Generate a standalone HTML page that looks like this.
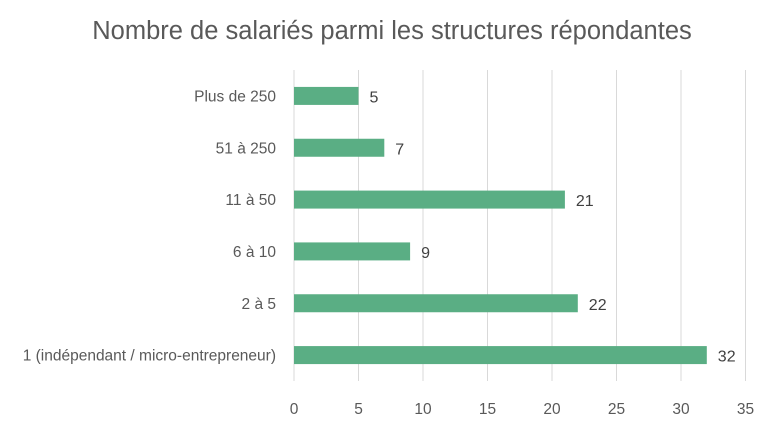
<!DOCTYPE html>
<html><head><meta charset="utf-8"><style>
body{margin:0;background:#fff;width:776px;height:424px;overflow:hidden}
svg text{font-family:"Liberation Sans",sans-serif}
</style></head><body>
<svg id="c" width="776" height="424">
<text x="392" y="39" text-anchor="middle" font-size="25.5" fill="#595959">Nombre de salariés parmi les structures répondantes</text>
</svg>
<script>
const categories=["Plus de 250","51 à 250","11 à 50","6 à 10","2 à 5","1 (indépendant / micro-entrepreneur)"];
const values=[5,7,21,9,22,32];
const ticks=[0,5,10,15,20,25,30,35];
const svgEl=document.getElementById('c');
const NS="http://www.w3.org/2000/svg";
const x0=294,x1=745.5,plotTop=70,plotBottom=381;
const xs=v=>x0+(v/35)*(x1-x0);
const band=(plotBottom-plotTop)/categories.length;
const ys=i=>plotTop+band*(i+0.5);
function mk(t,a){const e=document.createElementNS(NS,t);for(const k in a)e.setAttribute(k,a[k]);svgEl.appendChild(e);return e;}
ticks.forEach(t=>{
 const l=mk('line',{x1:xs(t),x2:xs(t),y1:plotTop,y2:plotBottom,stroke:'#d9d9d9','stroke-width':1});
 
 
 const tx=mk('text',{x:xs(t),y:414,'text-anchor':'middle','font-size':15.5,fill:'#595959'});
 tx.textContent=t;
 
 
});
categories.forEach((c,i)=>{
 const y=ys(i);
 const r=mk('rect',{x:x0,y:y-9,width:xs(values[i])-x0,height:18,fill:'#5aae84'});
 
 
 const lb=mk('text',{x:276,y:y+5.5,'text-anchor':'end','font-size':15.5,fill:'#595959'});
 lb.textContent=c;
 
 
 const v=mk('text',{x:xs(values[i])+11,y:y+6.5,'font-size':16,fill:'#404040'});
 v.textContent=values[i];
 
 
});
</script>
</body></html>
